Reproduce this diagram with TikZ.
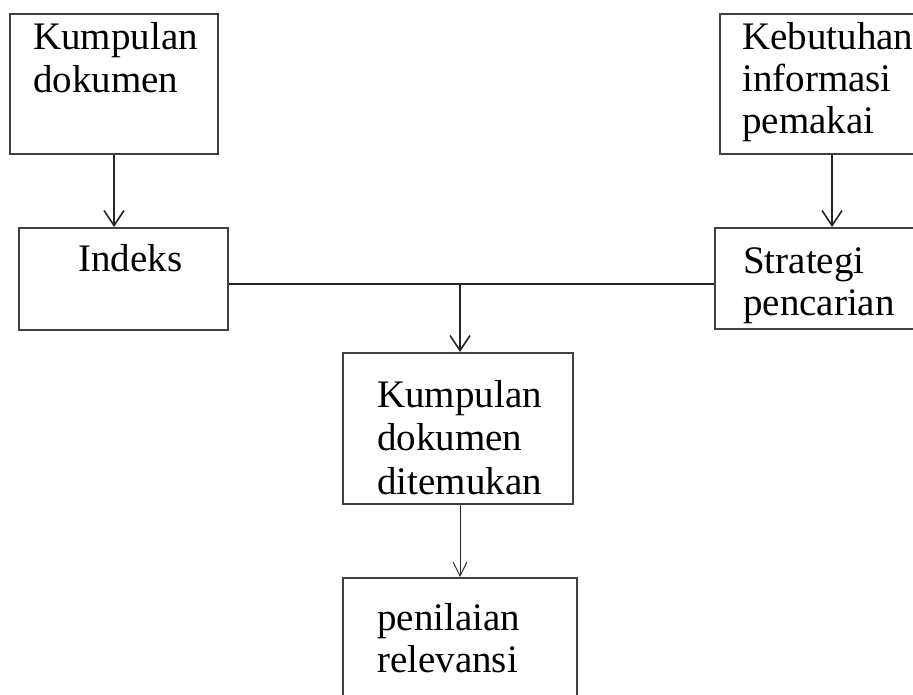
\documentclass[tikz,border=0pt]{standalone}
\usepackage{fontspec}
\setmainfont{Liberation Serif}
\usetikzlibrary{arrows.meta}
\begin{document}
\begin{tikzpicture}[x=1pt,y=-1pt,
  box/.style={draw=black!75,line width=2pt,fill=none,inner sep=0pt,rectangle},
  txt/.style={anchor=base west,inner sep=0pt,font=\fontsize{39}{42}\selectfont,text=black},
  conn/.style={draw=black!85,line width=1.6pt},
  arr/.style={conn,-{Straight Barb[length=15pt,width=20pt,line width=1.6pt]}},
  arrthin/.style={draw=black!85,line width=1pt,-{Straight Barb[length=14pt,width=14pt,line width=1pt]}}
]
\useasboundingbox (0,0) rectangle (913,695);
\clip (0,0) rectangle (913,695);
% boxes
\node[box,minimum width=208pt,minimum height=140pt] (kd) at (114,84) {};
\node[box,minimum width=209pt,minimum height=102pt] (idx) at (123.5,279) {};
\node[box,minimum width=300pt,minimum height=140pt] (kip) at (870,84) {};
\node[box,minimum width=300pt,minimum height=101pt] (sp) at (865,278.5) {};
\node[box,minimum width=230pt,minimum height=151pt] (kdt) at (458,428.5) {};
\node[box,minimum width=234pt,minimum height=142pt] (pr) at (460,649) {};
% texts
\node[txt] (t1a) at (33,50) {Kumpulan};
\node[txt] (t1b) at (33,93) {dokumen};
\node[txt] (t2) at (78,272) {Indeks};
\node[txt] (t3a) at (742,50) {Kebutuhan};
\node[txt] (t3b) at (742,92) {informasi};
\node[txt] (t3c) at (742,134) {pemakai};
\node[txt] (t4a) at (743,273) {Strategi};
\node[txt] (t4b) at (743,315) {pencarian};
\node[txt] (t5a) at (377,407) {Kumpulan};
\node[txt] (t5b) at (377,450) {dokumen};
\node[txt] (t5c) at (377,494) {ditemukan};
\node[txt] (t6a) at (377,630) {penilaian};
\node[txt] (t6b) at (377,672) {relevansi};
% connectors
\coordinate (j) at (460,284);
\coordinate (k) at (832,0);
\draw[arr] (kip.south -| k) -- (k |- sp.north);
\draw[arr] (kd.south) -- (kd.south |- idx.north);
\draw[conn] (idx.east |- j) -- (sp.west |- j);
\draw[arr] (j) -- (j |- kdt.north);
\draw[arrthin] (j |- kdt.south) -- (j |- pr.north);
\end{tikzpicture}
\end{document}
